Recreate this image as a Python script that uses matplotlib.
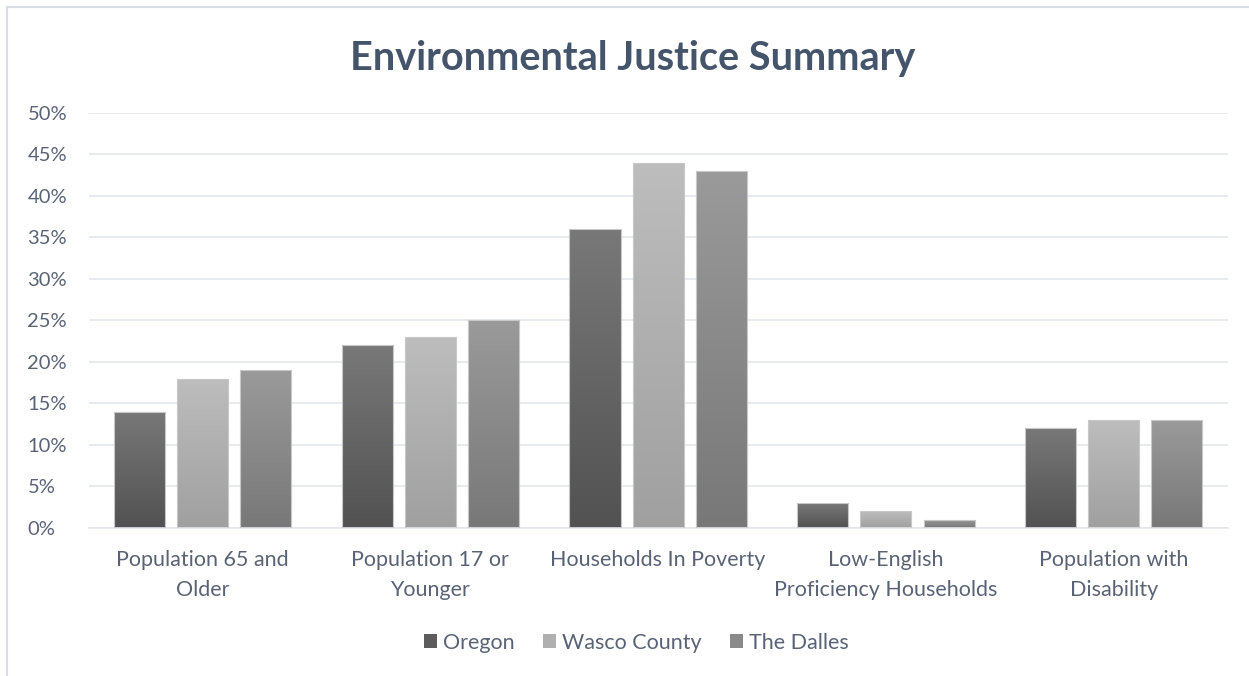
import numpy as np
import matplotlib.pyplot as plt
from matplotlib.ticker import PercentFormatter
from matplotlib.patches import Patch
from matplotlib.lines import Line2D

# data
categories = ['Population 65 and\nOlder', 'Population 17 or\nYounger', 'Households In Poverty',
              'Low-English\nProficiency Households', 'Population with\nDisability']
series_names = ['Oregon', 'Wasco County', 'The Dalles']
oregon = [14, 22, 36, 3, 12]
wasco = [18, 23, 44, 2, 13]
dalles = [19, 25, 43, 1, 13]

# gradient colours (top, bottom) for each series
grads = [('#787878', '#525252'), ('#bdbdbd', '#a0a0a0'), ('#9a9a9a', '#787878')]
legend_colors = ['#5c5c5c', '#b0b0b0', '#8a8a8a']
text_col = '#5a6375'
grid_col = '#e3e6eb'

plt.rcParams['font.family'] = ['Lato', 'DejaVu Sans']

fig = plt.figure(figsize=(12.49, 6.76), dpi=100)
ax = fig.add_axes([0.0709, 0.219, 0.912, 0.614])

x = np.arange(len(categories))
width = 0.224
offsets = [-0.277, 0, 0.277]

for vals, off, (ctop, cbot) in zip([oregon, wasco, dalles], offsets, grads):
    bars = ax.bar(x + off, vals, width, color='none', edgecolor='#c8c8c8', linewidth=0.8, zorder=3)
    c1 = np.array(plt.matplotlib.colors.to_rgb(ctop))
    c2 = np.array(plt.matplotlib.colors.to_rgb(cbot))
    t = np.linspace(0, 1, 100)[:, None]
    img = (c1 * (1 - t) + c2 * t)[:, None, :]
    for b in bars:
        x0, y0 = b.get_x(), b.get_y()
        im = ax.imshow(img, extent=[x0, x0 + b.get_width(), y0, y0 + b.get_height()],
                       aspect='auto', origin='upper', zorder=2, interpolation='bilinear')
        im.set_clip_path(b)

ax.set_xlim(-0.5, len(categories) - 0.5)
ax.set_ylim(0, 50)
ax.set_yticks(np.arange(0, 51, 5))
ax.yaxis.set_major_formatter(PercentFormatter(decimals=0))
ax.set_xticks(x)
ax.set_xticklabels(categories, linespacing=1.6)
ax.tick_params(axis='both', length=0, labelsize=15.5, colors=text_col)
ax.tick_params(axis='y', labelsize=14.5)
ax.tick_params(axis='x', pad=16)
ax.tick_params(axis='y', pad=44)
for lbl in ax.get_yticklabels():
    lbl.set_horizontalalignment('left')
ax.yaxis.grid(True, color=grid_col, linewidth=1.2, zorder=0)
ax.set_axisbelow(True)
for s in ['top', 'right', 'left']:
    ax.spines[s].set_visible(False)
ax.spines['bottom'].set_color(grid_col)
ax.spines['bottom'].set_linewidth(1.2)

fig.text(0.5065, 0.913, 'Environmental Justice Summary', ha='center', va='center',
         fontsize=28.5, fontweight='bold', color='#44546a')

handles = [Patch(facecolor=c, edgecolor='none') for c in legend_colors]
fig.legend(handles, series_names, loc='center', bbox_to_anchor=(0.5096, 0.049), ncol=3,
           frameon=False, fontsize=15.5, labelcolor=text_col, handlelength=0.6,
           handleheight=0.6, handletextpad=0.3, columnspacing=1.3)

# outer chart border (top and left only visible)
fig.add_artist(Line2D([0.0056, 1.0], [0.99, 0.99], color='#d9dee6', linewidth=1.5))
fig.add_artist(Line2D([0.0056, 0.0056], [0.0, 0.99], color='#d9dee6', linewidth=1.5))

fig.savefig('out.png', dpi=100)
